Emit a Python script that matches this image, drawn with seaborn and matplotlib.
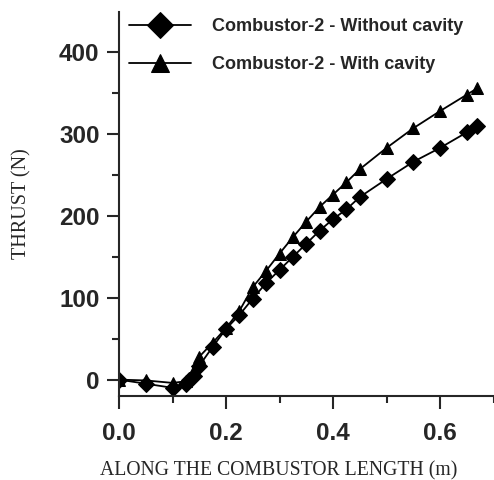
import pandas as pd
import matplotlib.pyplot as plt
import seaborn as sb

#%% Dados
x_sem = [0, 0.05, 0.1, 0.125, 0.13, 0.14, 0.15, 0.175, 0.2, 0.225, 0.25, 0.275,
         0.3, 0.325, 0.35, 0.375, 0.4, 0.425, 0.45, 0.5, 0.55, 0.6, 0.65, 0.67]
y_sem = [0, -5, -10, -5, 0, 5, 17, 40, 62, 79, 99, 118,
         134, 150, 166, 182, 196, 208, 223, 245, 266, 283, 302, 310]

x_com = [0, 0.05, 0.1, 0.125, 0.14, 0.15, 0.175, 0.2, 0.225, 0.25, 0.275,
         0.3, 0.325, 0.35, 0.375, 0.4, 0.425, 0.45, 0.5, 0.55, 0.6, 0.65, 0.67]
y_com = [0, -1, -4, -2, 12, 28, 45, 63, 84, 113, 133,
         154, 174, 193, 211, 226, 241, 257, 283, 307, 328, 348, 356]

lab_sem = "Combustor-2 - Without cavity"
lab_com = "Combustor-2 - With cavity"

df = pd.concat([
    pd.DataFrame({'x': x_sem, 'y': y_sem, 'caso': lab_sem}),
    pd.DataFrame({'x': x_com, 'y': y_com, 'caso': lab_com}),
])

#%% Grafico
sb.set_style("ticks")
plt.rcParams['font.family'] = ['Liberation Sans', 'DejaVu Sans']

fig = plt.figure(figsize=(4.94, 4.8), dpi=100)
ax = fig.add_axes([0.241, 0.175, 0.758, 0.80])

sb.lineplot(data=df, x='x', y='y', style='caso', markers=['D', '^'],
            dashes=False, color='black', linewidth=1.3, markersize=8,
            markeredgecolor='black', sort=False, estimator=None, ax=ax)

ax.set_xlim(0, 0.7)
ax.set_ylim(-20, 449)
ax.set_xticks([0.0, 0.2, 0.4, 0.6])
ax.set_xticks([0.1, 0.3, 0.5, 0.7], minor=True)
ax.set_yticks([0, 100, 200, 300, 400])
ax.set_yticks([50, 150, 250, 350], minor=True)
ax.set_xticklabels(['0.0', '0.2', '0.4', '0.6'])

ax.tick_params(which='major', length=9, width=1.5, labelsize=17.5)
ax.tick_params(which='minor', length=5, width=1.5)
ax.tick_params(axis='x', which='major', pad=10)
ax.tick_params(axis='y', which='major', pad=5)
for t in ax.get_xticklabels() + ax.get_yticklabels():
    t.set_fontweight('bold')

for s in ['left', 'bottom']:
    ax.spines[s].set_linewidth(1.5)
sb.despine(ax=ax)

ax.set_xlabel("ALONG THE COMBUSTOR LENGTH (m)", family='Liberation Serif',
              fontsize=14.2)
ax.xaxis.label.set_va('baseline')
ax.xaxis.set_label_coords(0.425, -0.206)
ax.set_ylabel("THRUST (N)", family='Liberation Serif', fontsize=14.5,
              labelpad=20)

leg = ax.legend(loc='upper left', bbox_to_anchor=(-0.016, 1.027), frameon=False,
                handlelength=3.4, handletextpad=1.2, markerscale=1.6,
                labelspacing=1.17, prop={'weight': 'bold', 'size': 13})
for h in leg.legend_handles:
    h.set_color('black')

fig.savefig('out.png', dpi=100)
